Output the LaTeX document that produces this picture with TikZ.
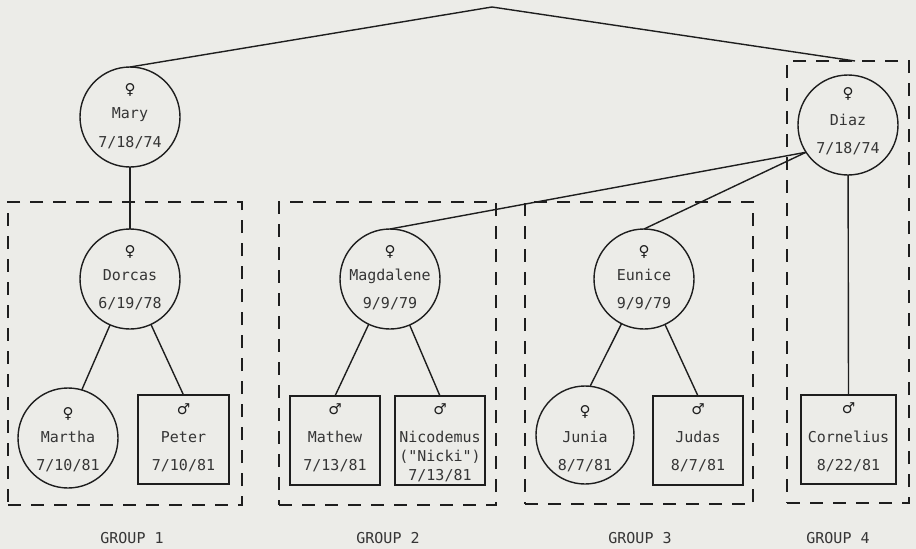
\documentclass[tikz,border=0pt]{standalone}
\usepackage{fontspec}
\setmonofont{DejaVu Sans Mono}
\newfontfamily\symfont{DejaVu Sans}
\definecolor{paper}{RGB}{236,236,232}
\definecolor{ink}{RGB}{30,30,30}
\begin{document}
\begin{tikzpicture}[x=1pt,y=-1pt,
  every node/.style={inner sep=0pt, outer sep=0pt},
  txt/.style={font=\ttfamily\fontsize{15}{15}\selectfont, anchor=base, text=ink!90},
  sym/.style={font=\symfont\fontsize{15}{15}\selectfont, anchor=base, text=ink},
  female/.style={draw=ink, circle, minimum size=100pt, line width=1.4pt},
  male/.style={draw=ink, rectangle, line width=1.4pt, minimum width=90pt, minimum height=89pt},
  grp/.style={draw=ink, rectangle, line width=1.7pt, dash pattern=on 13pt off 10pt},
  link/.style={draw=ink, line width=1.4pt},
  ]
\fill[paper] (0,0) rectangle (916,549);
\useasboundingbox (0,0) rectangle (916,549);

% group boxes
\node[grp, minimum width=234pt, minimum height=303pt] (g1) at (125,353.5) {};
\node[grp, minimum width=217pt, minimum height=303pt] (g2) at (387.5,353.5) {};
\node[grp, minimum width=228pt, minimum height=302pt] (g3) at (639,353) {};
\node[grp, minimum width=122pt, minimum height=442pt] (g4) at (848,282) {};

% persons
\node[female] (mary) at (130,117) {};
\node[female] (dorcas) at (130,279) {};
\node[female] (magdalene) at (390,279) {};
\node[female] (eunice) at (644,279) {};
\node[female] (diaz) at (848,125) {};
\node[female] (martha) at (68,438) {};
\node[female, minimum size=98pt] (junia) at (585,435) {};
\node[male, minimum width=91pt] (peter) at (183.5,439.5) {};
\node[male] (mathew) at (335,440.5) {};
\node[male] (nicodemus) at (440,440.5) {};
\node[male] (judas) at (698,440.5) {};
\node[male, minimum width=95pt] (cornelius) at (848.5,439.5) {};

% texts
\node[sym] (marys) at (130,94) {♀};
\node[txt] (maryn) at (130,118) {Mary};
\node[txt] (maryd) at (130,147) {7/18/74};

\node[sym] (dorcass) at (130,256) {♀};
\node[txt] (dorcasn) at (130,280) {Dorcas};
\node[txt] (dorcasd) at (130,308) {6/19/78};

\node[sym] (magdalenes) at (390,256) {♀};
\node[txt] (magdalenen) at (390,280) {Magdalene};
\node[txt] (magdalened) at (390,308) {9/9/79};

\node[sym] (eunices) at (644,256) {♀};
\node[txt] (eunicen) at (644,280) {Eunice};
\node[txt] (euniced) at (644,308) {9/9/79};

\node[sym] (diazs) at (848,98) {♀};
\node[txt] (diazn) at (848,125) {Diaz};
\node[txt] (diazd) at (848,153) {7/18/74};

\node[sym] (marthas) at (68,418) {♀};
\node[txt] (marthan) at (68,442) {Martha};
\node[txt] (marthad) at (68,470) {7/10/81};

\node[sym] (peters) at (183.5,414) {♂};
\node[txt] (petern) at (183.5,442) {Peter};
\node[txt] (peterd) at (183.5,470) {7/10/81};

\node[sym] (mathews) at (335,414) {♂};
\node[txt] (mathewn) at (335,442) {Mathew};
\node[txt] (mathewd) at (335,470) {7/13/81};

\node[sym] (nicodemuss) at (440,414) {♂};
\node[txt] (nicodemusn) at (440,442) {Nicodemus};
\node[txt] (nicodemusk) at (440,461) {("Nicki")};
\node[txt] (nicodemusd) at (440,480) {7/13/81};

\node[sym] (junias) at (585,416) {♀};
\node[txt] (junian) at (585,442) {Junia};
\node[txt] (juniad) at (585,470) {8/7/81};

\node[sym] (judass) at (698,414) {♂};
\node[txt] (judasn) at (698,442) {Judas};
\node[txt] (judasd) at (698,470) {8/7/81};

\node[sym] (corneliuss) at (848.5,413) {♂};
\node[txt] (corneliusn) at (848.5,442) {Cornelius};
\node[txt] (corneliusd) at (848.5,470) {8/22/81};

% group labels
\node[txt] (l1) at (132,543) {GROUP 1};
\node[txt] (l2) at (388,543) {GROUP 2};
\node[txt] (l3) at (640,543) {GROUP 3};
\node[txt] (l4) at (838,543) {GROUP 4};

% connectors
\coordinate (peak) at (492,7);
\coordinate (g4end) at (855,61);
\draw[link] (mary.north) -- (peak) -- (g4end);
\draw[link] (mary) -- (dorcas);
\draw[link] (dorcas) -- (martha.74);
\draw[link] (dorcas) -- (peter.north);
\draw[link] (magdalene) -- (mathew.north);
\draw[link] (magdalene) -- (nicodemus.north);
\draw[link] (eunice) -- (junia.84);
\draw[link] (eunice) -- (judas.north);
\draw[link] (diaz.213) -- (magdalene.north);
\draw[link] (diaz.213) -- (eunice.north);
\draw[link] (diaz) -- (cornelius.north);
\end{tikzpicture}
\end{document}
